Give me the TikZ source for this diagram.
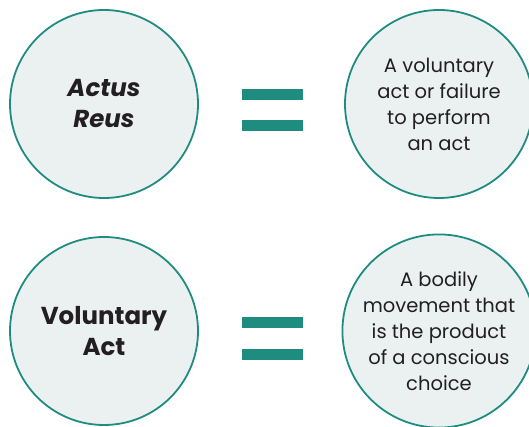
\documentclass[tikz,border=0pt]{standalone}
\usepackage{fontspec}
\setmainfont{Poppins}
\definecolor{lawteal}{HTML}{1F8C80}
\definecolor{lawfill}{HTML}{EBF1F1}
\definecolor{lawtext}{HTML}{231F20}
\begin{document}
\begin{tikzpicture}[x=1pt,y=-1pt,
    term/.style={circle,draw=lawteal,fill=lawfill,line width=1.8pt,minimum size=188pt,inner sep=0pt,align=center,text=lawtext,font=\bfseries\fontsize{24.5}{31}\selectfont},
    termit/.style={term,font=\bfseries\itshape\fontsize{24.5}{31}\selectfont},
    meaning/.style={term,font=\fontsize{19.5}{26}\selectfont},
    eqbar/.style={rectangle,fill=lawteal,minimum width=61pt,minimum height=11pt,inner sep=0pt}]
    \useasboundingbox (0,0) rectangle (529,427);
    %prima riga
    \node[termit] (actus) at (104,104) {Actus\\Reus};
    \node[meaning] (actdef) at (439,104) {A voluntary\\act or failure\\to perform\\an act};
    \node[eqbar] (eqa1) at (272.5,94.5) {};
    \node[eqbar] (eqa2) at (272.5,126) {};
    %seconda riga
    \node[term] (volact) at (104,331) {Voluntary\\Act};
    \node[meaning] (voldef) at (439,331) {A bodily\\movement that\\is the product\\of a conscious\\choice};
    \node[eqbar] (eqb1) at (272.5,322.5) {};
    \node[eqbar] (eqb2) at (272.5,354) {};
\end{tikzpicture}
\end{document}
